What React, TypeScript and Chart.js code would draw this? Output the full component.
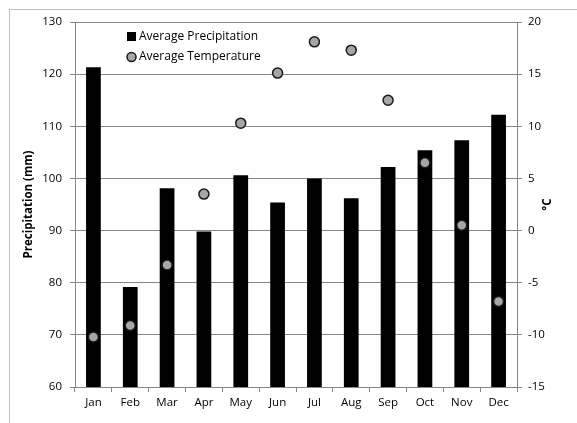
import React, { useEffect, useRef } from "react";
import { Chart, registerables } from "chart.js";

Chart.register(...registerables);

const months = ["Jan", "Feb", "Mar", "Apr", "May", "Jun", "Jul", "Aug", "Sep", "Oct", "Nov", "Dec"];
const precipitation = [121.3, 79.2, 98.1, 89.8, 100.6, 95.4, 100.0, 96.2, 102.2, 105.4, 107.3, 112.2];
const temperature = [-10.2, -9.1, -3.3, 3.5, 10.3, 15.1, 18.1, 17.3, 12.5, 6.5, 0.5, -6.8];
const precipLabel = "Average Precipitation";
const tempLabel = "Average Temperature";
const leftTitle = "Precipitation (mm)";
const rightTitle = "°C";

const FONT = "'Open Sans', sans-serif";
const AXIS_GRAY = "#868686";

const legendPlugin = {
  id: "insideLegend",
  afterDraw(chart: any) {
    const ctx = chart.ctx;
    const x0 = 127;
    ctx.save();
    ctx.font = `12px ${FONT}`;
    ctx.textBaseline = "middle";
    ctx.fillStyle = "#000";
    ctx.fillRect(x0, 32, 9, 9);
    ctx.fillText(chart.data.datasets[0].label, x0 + 12, 37);
    ctx.beginPath();
    ctx.arc(x0 + 4.5, 57, 4.5, 0, Math.PI * 2);
    ctx.fillStyle = "#a6a6a6";
    ctx.fill();
    ctx.lineWidth = 1.5;
    ctx.strokeStyle = "#1a1a1a";
    ctx.stroke();
    ctx.fillStyle = "#000";
    ctx.fillText(chart.data.datasets[1].label, x0 + 12, 57);

    // axis titles, both rotated -90 like the reference
    const midY = (chart.chartArea.top + chart.chartArea.bottom) / 2;
    ctx.font = `bold 11.5px ${FONT}`;
    ctx.textAlign = "center";
    ctx.textBaseline = "middle";
    ctx.translate(29, midY);
    ctx.rotate(-Math.PI / 2);
    ctx.fillText(leftTitle, 0, 0);
    ctx.rotate(Math.PI / 2);
    ctx.translate(-29, -midY);
    ctx.translate(548, midY);
    ctx.rotate(-Math.PI / 2);
    ctx.fillText(rightTitle, 0, 0);
    ctx.restore();
  },
};

export default function App() {
  const ref = useRef<HTMLCanvasElement | null>(null);
  useEffect(() => {
    if (!ref.current) return;
    const chart = new Chart(ref.current, {
      type: "bar",
      data: {
        labels: months,
        datasets: [
          {
            type: "bar",
            label: precipLabel,
            data: precipitation,
            backgroundColor: "#000000",
            borderWidth: 0,
            barPercentage: 0.4,
            categoryPercentage: 1,
            yAxisID: "y",
            order: 2,
          } as any,
          {
            type: "line",
            label: tempLabel,
            data: temperature,
            showLine: false,
            pointRadius: 5,
            pointBackgroundColor: "#a6a6a6",
            pointBorderColor: "#1a1a1a",
            pointBorderWidth: 1.5,
            yAxisID: "y1",
            order: 1,
          } as any,
        ],
      },
      options: {
        responsive: false,
        animation: false,
        layout: { padding: { left: 17, top: 22, right: 8, bottom: 5 } },
        plugins: { legend: { display: false }, tooltip: { enabled: false } },
        scales: {
          x: {
            offset: true,
            grid: { display: true, drawOnChartArea: false, drawTicks: true, tickLength: 5, color: AXIS_GRAY, offset: true },
            border: { display: true, color: AXIS_GRAY },
            ticks: { color: "#000", font: { family: FONT, size: 11.5 }, padding: 4, maxRotation: 0 },
            afterFit: (s: any) => { s.height = 31; },
          },
          y: {
            position: "left",
            min: 60,
            max: 130,
            ticks: { stepSize: 10, color: "#000", font: { family: FONT, size: 11.5 }, padding: 8 },
            grid: { color: AXIS_GRAY, tickLength: 5 },
            border: { display: true, color: AXIS_GRAY },
            afterFit: (s: any) => { s.width = 58; },
          },
          y1: {
            position: "right",
            min: -15,
            max: 20,
            ticks: { stepSize: 5, color: "#000", font: { family: FONT, size: 11.5 }, padding: 6 },
            grid: { drawOnChartArea: false, color: AXIS_GRAY, tickLength: 5 },
            border: { display: true, color: AXIS_GRAY },
            afterFit: (s: any) => { s.width = 52; },
          },
        },
      } as any,
      plugins: [legendPlugin],
    });
    return () => chart.destroy();
  }, []);

  return (
    <div style={{ position: "fixed", left: 0, top: 0, width: 577, height: 423, overflow: "hidden", background: "#fff" }}>
      <div style={{ position: "absolute", left: 9, top: 9, width: 620, height: 480, border: "1px solid #bfbfbf" }} />
      <canvas ref={ref} width={577} height={423} style={{ position: "absolute", left: 0, top: 0, width: 577, height: 423 }} />
    </div>
  );
}
